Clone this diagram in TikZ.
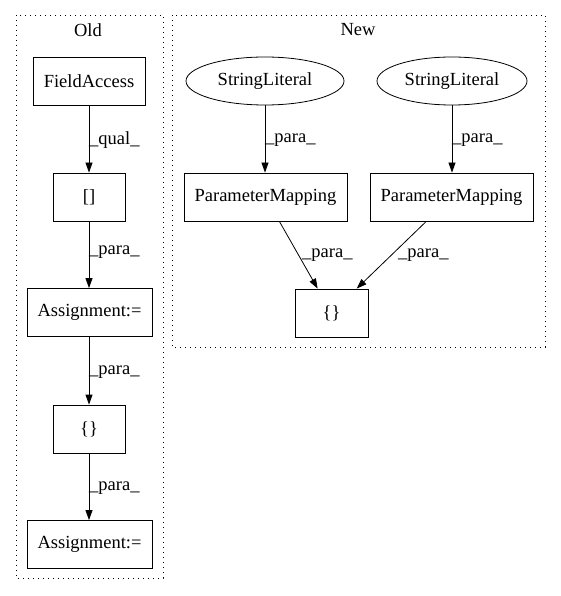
\documentclass[tikz,border=0pt]{standalone}
\usepackage{fontspec}
\setmainfont{Liberation Serif}
\usetikzlibrary{shapes.geometric,arrows.meta}
\begin{document}
\begin{tikzpicture}[x=1pt,y=-1pt,
  box/.style={draw,line width=0.8pt,inner sep=0pt,minimum height=48pt,font=\fontsize{18.5}{20}\selectfont},
  oval/.style={draw,ellipse,line width=0.8pt,inner sep=0pt,minimum height=48pt,font=\fontsize{18.5}{20}\selectfont},
  cluster/.style={draw,line width=0.9pt,dash pattern=on 1.2pt off 3.8pt},
  edge/.style={draw,line width=0.8pt,-{Triangle[length=10pt,width=7pt]}},
  lbl/.style={anchor=west,inner sep=0pt,font=\fontsize{18.5}{20}\selectfont},
  title/.style={font=\fontsize{18.5}{20}\selectfont,inner sep=0pt}]
\useasboundingbox (0,0) rectangle (560,596);
\draw[cluster] (16,15) rectangle (163,578);
\draw[cluster] (172,15) rectangle (545,347);
\node[title] (told) at (88,30) {Old};
\node[title] (tnew) at (358,30) {New};
% Old
\node[box,minimum width=112pt] (fa) at (89,81) {FieldAccess};
\node[box,minimum width=72pt] (br) at (89,197) {[]};
\node[box,minimum width=125pt] (as1) at (89.5,312.5) {Assignment:=};
\node[box,minimum width=72pt] (ob) at (89,429) {\{\}};
\node[box,minimum width=125pt] (as2) at (89.5,544.5) {Assignment:=};
% New
\node[oval,minimum width=158pt] (sl1) at (265,81) {StringLiteral};
\node[oval,minimum width=150pt] (sl2) at (452,81) {StringLiteral};
\node[box,minimum width=163pt] (pm1) at (265.5,197) {ParameterMapping};
\node[box,minimum width=163pt] (pm2) at (451.5,197) {ParameterMapping};
\node[box,minimum width=73pt] (nb) at (331.5,313) {\{\}};
% edges
\draw[edge] (fa) -- (br);
\draw[edge] (br) -- (as1.north-|br);
\draw[edge] (as1.south-|ob) -- (ob);
\draw[edge] (ob) -- (as2.north-|ob);
\draw[edge] (sl1) -- (pm1.north-|sl1);
\draw[edge] (sl2) -- (pm2.north-|sl2);
\draw[edge] (pm1) -- (nb);
\draw[edge] (pm2) -- (nb);
% labels
\node[lbl] (l1) at (89,140) {\_qual\_};
\node[lbl] (l2) at (89,252) {\_para\_};
\node[lbl] (l3) at (89,372) {\_para\_};
\node[lbl] (l4) at (89,488) {\_para\_};
\node[lbl] (l5) at (265,140) {\_para\_};
\node[lbl] (l6) at (452,140) {\_para\_};
\node[lbl] (l7) at (302,255) {\_para\_};
\node[lbl] (l8) at (398,255) {\_para\_};
\end{tikzpicture}
\end{document}
